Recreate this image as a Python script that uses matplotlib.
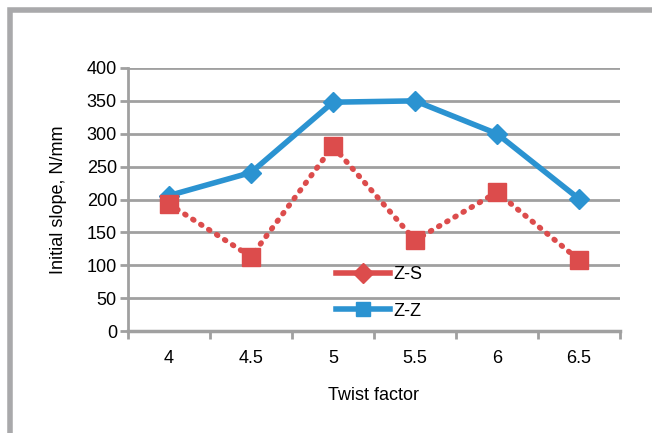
import matplotlib.pyplot as plt
from matplotlib.lines import Line2D
from matplotlib.patches import Rectangle

plt.rcParams['font.family'] = ['Liberation Sans', 'DejaVu Sans']

# data
twist = ['4', '4.5', '5', '5.5', '6', '6.5']
zs = [193, 113, 281, 138, 211, 108]
zz = [206, 241, 348, 350, 300, 201]

red = '#dc4c4c'
blue = '#2b93d1'
grid_c = '#a0a0a0'
fs = 13

fig = plt.figure(figsize=(6.52, 4.33), dpi=100)
# grey frame around the chart
fig.patches.append(Rectangle((10/652, -0.05), 1.0, 1 - 10/433 + 0.05, transform=fig.transFigure,
                             fill=False, edgecolor='#a9a9ab', linewidth=4))

ax = fig.add_axes([128/652, 1 - 331/433, 492/652, 263/433])
x = range(len(twist))

ax.plot(x, zz, color=blue, linewidth=4, marker='D', markersize=10, zorder=3)
ax.plot(x, zs, color=red, linewidth=4, linestyle=(0, (0.2, 1.5)), dash_capstyle='round',
        marker='s', markersize=13, zorder=4)

ax.set_xlim(-0.5, len(twist) - 0.5)
ax.set_ylim(0, 400)
ax.set_yticks(range(0, 401, 50))
ax.set_xticks(x)
ax.set_xticklabels(twist)
ax.tick_params(axis='x', which='major', length=0, pad=14, labelsize=fs)
ax.set_xticks([i - 0.5 for i in range(len(twist) + 1)], minor=True)
ax.tick_params(axis='x', which='minor', length=6, width=2, color=grid_c, direction='out')
ax.tick_params(axis='y', length=6, width=2, color=grid_c, labelsize=fs, pad=2)

ax.grid(axis='y', color=grid_c, linewidth=2)
ax.set_axisbelow(True)
for s in ['top', 'right']:
    ax.spines[s].set_visible(False)
ax.spines['left'].set_color(grid_c)
ax.spines['left'].set_linewidth(2)
ax.spines['bottom'].set_color(grid_c)
ax.spines['bottom'].set_linewidth(2.5)

ax.set_xlabel('Twist factor', fontsize=fs, labelpad=14)
ax.set_ylabel('Initial slope, N/mm', fontsize=fs, labelpad=14)

handles = [Line2D([], [], color=red, linewidth=4, marker='D', markersize=10),
           Line2D([], [], color=blue, linewidth=4, marker='s', markersize=10)]
ax.legend(handles, ['Z-S', 'Z-Z'], loc='center', bbox_to_anchor=(0.51, 0.145), frameon=False,
          fontsize=fs, handlelength=3.0, labelspacing=1.1, handletextpad=0.2)

fig.savefig('out.png', dpi=100)
